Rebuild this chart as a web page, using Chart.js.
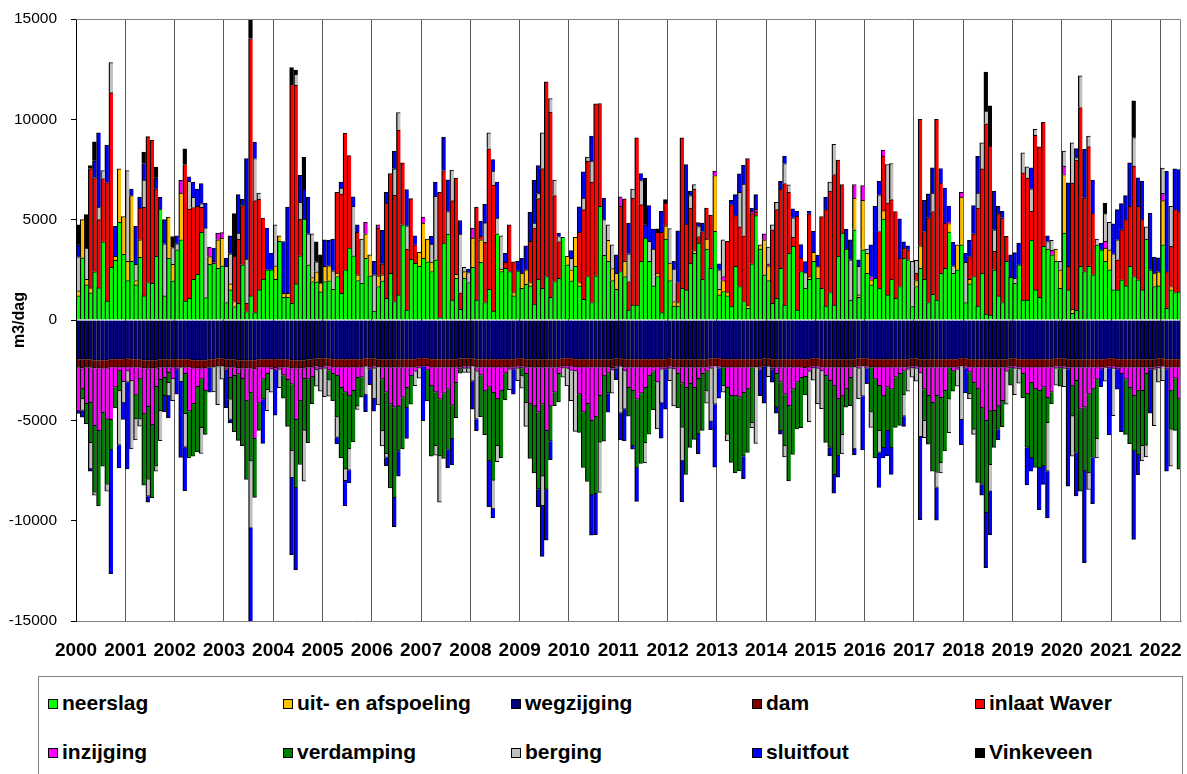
<!DOCTYPE html>
<html lang="nl">
<head>
<meta charset="UTF-8">
<title>Waterbalans</title>
<script src="https://cdn.jsdelivr.net/npm/chart.js@4.4.0/dist/chart.umd.min.js"></script>
<style>
  body { margin: 0; background: #fff; font-family: 'Liberation Sans', Arial, sans-serif; }
  #wrap { position: relative; width: 1187px; height: 774px; overflow: hidden; }
  #chart { position: absolute; left: 0; top: 0; }
  #legend { position: absolute; left: 38px; top: 676px; width: 1145px; height: 100px;
            border: 1px solid #808080; box-sizing: border-box; }
  .item { position: absolute; font-weight: bold; font-size: 21px; line-height: 24px;
          white-space: nowrap; color: #000; }
  .box { display: inline-block; width: 8px; height: 8px; border: 1px solid #000;
         margin-right: 4px; vertical-align: 1px; }
</style>
</head>
<body>
<div id="wrap">
  <canvas id="chart" width="1187" height="670"></canvas>
  <div id="legend"></div>
</div>
<script>
// jaren op de x-as (maanden jan 2000 t/m mei 2022)
const years = [2000,2001,2002,2003,2004,2005,2006,2007,2008,2009,2010,2011,
               2012,2013,2014,2015,2016,2017,2018,2019,2020,2021,2022];
const nMonths = 269;

// ---- instroom (m3/dag), per jaar 12 maanden ----
const neerslag = [
  1200,3100,1750,1350,2400,1600,3900,950,2630,2970,4870,3280,
  1970,2920,1750,3120,1200,1870,1830,3170,5530,1200,3080,1950,
  3500,4000,950,1080,2030,2280,4370,1120,2780,2830,2580,2700,
  870,1500,670,830,2750,420,1200,370,1500,2030,2500,2500,
  2030,3920,1130,1130,830,1800,3200,5030,2750,1920,1900,1400,
  1920,1950,1530,2170,1330,2500,3580,3200,1970,1830,3080,2200,
  450,1670,1950,1080,2330,920,1250,4750,500,3030,2830,2670,
  3080,2900,2420,3000,120,3830,4280,1000,2080,530,2080,1870,
  2630,1000,2870,870,1530,450,4300,2420,2580,2420,1200,2450,
  1580,1780,1700,800,2030,1580,2170,1130,1920,2080,4120,2750,
  1950,2670,1700,1030,2170,870,2200,5670,3220,2920,1970,1530,
  2420,2170,500,750,750,2920,4080,2920,1700,2170,370,4030,
  1970,700,700,1580,1500,2830,3330,3830,2030,3530,2580,4420,
  1250,1420,1200,700,2670,1670,920,580,2800,5200,3530,2250,
  1970,830,1080,2580,750,3330,3670,500,2420,1580,2030,2920,
  2080,1580,700,1370,750,3170,4330,3530,1000,4500,1130,3500,
  2330,1750,2080,1580,5030,1250,2030,1080,1670,3080,3000,670,
  1670,2580,2030,870,1280,1000,2330,2580,4380,2330,2500,3750,
  870,1800,2170,700,2330,300,250,2500,1200,870,2920,2130,
  1830,2750,1000,1000,3970,1500,1130,3670,3530,3250,2920,1580,
  4330,1500,330,500,2670,2420,2670,2250,3750,3500,2920,2500,
  1500,1500,2000,1700,2670,2170,2000,1500,4030,2500,1670,1700,
  3750,580,1500,1370,1400
];
const afspoeling = [
  250,1900,280,250,0,0,0,0,0,200,2670,1880,
  950,3280,220,880,0,0,0,0,0,0,2050,830,
  0,2330,0,0,0,0,0,0,380,0,1420,1380,
  0,300,250,0,0,0,0,0,0,0,0,0,
  670,280,200,200,0,0,0,0,0,200,500,450,
  750,750,0,170,0,0,0,0,280,0,1220,1050,
  0,530,300,0,0,0,0,0,0,0,0,700,
  1750,1130,470,0,0,0,0,0,200,0,330,0,
  1450,0,1130,0,0,0,0,120,0,0,170,0,
  750,720,170,0,0,0,0,0,0,0,0,420,
  550,1450,170,0,0,0,0,0,0,1050,600,800,
  0,750,0,0,0,0,0,0,0,170,0,670,
  870,220,170,0,0,0,130,0,0,500,0,2780,
  280,550,170,0,0,0,0,170,0,0,220,1750,
  730,0,0,0,0,0,0,0,0,0,130,450,
  580,0,0,0,0,0,0,0,0,1580,120,2470,
  1000,250,0,0,420,0,0,0,0,0,0,0,
  300,1120,0,0,0,0,0,0,430,0,1250,2380,
  0,230,0,0,0,0,0,0,0,0,0,0,
  0,0,0,0,0,0,0,0,0,0,620,920,
  2920,0,200,0,0,0,0,0,0,0,670,1000,
  0,0,0,0,0,0,0,0,0,0,670,700,
  2200,0,170,0,0
];
const inlaatWaver = [
  0,0,0,5950,4700,3400,3150,5900,8700,0,0,0,
  0,0,0,1580,4420,7270,7130,3370,0,0,0,0,
  0,0,6800,4450,3580,3380,1250,0,0,0,0,0,
  0,0,2250,3200,2950,420,12830,5580,4530,3050,0,0,
  0,0,0,0,10920,9900,1830,0,0,0,0,0,
  0,0,0,4030,4950,6800,4620,0,2120,0,0,0,
  0,2380,550,4750,4970,5300,8220,3080,3030,3020,920,0,
  0,0,0,0,6250,3620,0,4950,4800,830,0,0,
  0,4630,170,3000,7000,6270,0,0,300,2330,1530,0,
  0,0,2050,3780,4020,5970,9700,9230,4280,1830,0,0,
  0,0,2500,4470,5750,6000,8580,5120,0,0,0,0,
  3250,3120,1420,5330,8330,2830,0,0,0,2030,4000,1130,
  0,0,1000,7500,3280,2750,3070,330,2380,1550,2650,0,
  0,0,2550,5050,2530,2970,3280,7300,2500,200,0,0,
  0,3670,4420,3950,6050,3030,450,4670,670,0,3130,0,
  0,3580,4800,5050,6500,4800,2420,0,0,0,0,0,
  0,0,0,2830,2720,4580,3970,4330,1420,500,500,0,
  370,6300,2380,4220,4130,9000,4500,2250,0,0,0,0,
  0,1130,2130,4880,5200,9480,8420,920,4100,4220,1250,0,
  0,0,6330,6080,1450,7700,7500,6200,0,0,0,0,
  0,1170,6300,7470,7920,3670,5970,3050,0,0,0,0,
  0,1500,2500,3300,3000,5500,3670,3500,0,0,0,0,
  0,1830,2000,4130,4000
];
const inzijgingIn = [
  0,0,0,0,0,0,0,0,0,0,0,0,
  0,0,0,0,0,0,0,0,0,0,0,0,
  0,630,0,0,0,0,0,0,470,100,330,280,
  0,0,0,0,0,0,0,0,0,0,0,0,
  0,0,0,0,0,0,0,0,0,0,0,0,
  0,0,0,0,0,0,0,0,0,0,570,0,
  0,170,0,0,0,0,0,0,0,0,0,0,
  300,0,0,0,0,0,0,0,0,0,0,0,
  500,0,0,0,0,0,0,0,0,0,0,0,
  0,0,0,0,0,0,0,0,0,0,0,0,
  0,0,0,0,0,0,0,0,0,0,0,0,
  470,0,0,0,0,0,0,0,0,0,0,0,
  0,0,0,0,0,0,0,0,0,0,0,220,
  0,200,0,0,0,0,0,0,120,120,0,300,
  100,0,0,0,0,0,0,0,0,0,0,0,
  0,0,0,0,0,0,0,0,0,670,0,730,
  0,170,0,0,300,0,0,0,0,0,0,0,
  0,0,0,0,0,0,0,0,120,0,0,230,
  0,0,0,0,0,0,0,0,0,0,0,0,
  0,0,0,0,0,0,0,0,0,220,0,0,
  420,0,0,0,0,0,0,0,0,0,330,0,
  0,0,0,0,0,0,0,0,0,0,0,0,
  370,0,0,0,0
];
const bergingIn = [
  1700,0,1550,0,0,630,400,0,1500,0,0,0,
  4530,0,800,0,1350,0,0,0,0,2600,0,830,
  300,0,0,1380,500,0,180,3470,0,0,0,0,
  1800,1500,0,300,0,2200,0,2100,300,0,0,0,
  2050,0,0,0,0,550,830,0,1550,2180,500,0,
  0,0,920,0,300,0,0,2470,0,2200,0,0,
  1800,0,0,0,0,1320,870,0,1170,0,0,0,
  0,0,900,3170,0,0,1130,1520,0,2920,220,500,
  0,0,0,970,800,700,780,1660,0,0,0,0,
  0,0,0,250,250,1780,0,670,770,250,0,0,
  580,0,0,580,200,1050,0,0,1780,780,1180,0,
  0,0,1380,450,0,1200,0,1000,1830,0,0,0,
  1720,1620,0,0,0,620,220,500,0,0,0,0,
  970,1830,0,0,0,1730,2580,0,0,0,0,0,
  830,250,370,0,1000,380,970,0,0,780,0,0,
  0,0,0,450,1500,0,0,0,2000,0,1420,0,
  200,0,0,1830,0,1920,1800,0,0,0,0,2250,
  630,0,0,0,920,0,0,0,0,370,0,0,
  2000,0,0,750,1300,630,0,1080,0,0,0,0,
  250,0,1000,550,1120,300,0,0,380,500,0,420,
  750,0,2000,120,1580,0,530,0,280,0,1380,1370,
  1800,1000,0,0,0,1420,0,0,620,0,0,0,
  1250,0,2000,0,0
];
const sluitfoutIn = [
  600,0,0,0,830,3700,0,1870,0,1500,0,0,
  0,330,1900,550,830,0,0,550,580,1200,0,0,
  400,0,0,220,750,870,1000,1220,0,650,0,0,
  420,900,0,1920,330,5000,0,820,0,0,2080,830,
  0,0,2580,4300,0,0,1350,1500,1830,0,0,0,
  1330,1270,1580,0,300,0,0,470,380,0,0,0,
  670,0,1670,530,0,880,0,0,1800,0,450,0,
  0,0,380,700,0,1670,1580,0,0,680,0,170,
  0,0,750,920,0,580,1800,0,450,0,0,470,
  750,1200,1450,2130,1400,0,0,0,0,170,0,0,
  380,0,1270,1300,0,1250,0,0,1080,0,0,920,
  0,0,1530,0,0,350,670,1780,1000,0,1050,0,
  0,380,2580,0,2970,220,0,200,420,0,0,0,
  300,0,0,220,1050,920,930,0,160,730,0,0,
  0,0,0,380,370,0,450,250,670,550,130,1050,
  580,0,630,0,0,0,0,1000,1000,0,330,0,
  0,1580,3580,670,0,0,0,0,1950,320,200,0,
  0,0,1550,1200,1250,0,720,1750,750,1170,0,0,
  460,830,1400,1830,0,0,0,1920,370,330,0,1120,
  1280,1080,0,0,1050,0,0,0,280,0,0,0,
  0,4170,0,450,0,2420,0,1670,0,330,0,0,
  1500,1500,1300,1200,2170,0,1420,1920,0,2830,800,700,
  0,5000,0,2030,2100
];
const vinkeveen = [
  1000,0,1670,150,950,0,0,0,0,0,0,0,
  0,0,0,0,570,0,0,530,0,0,0,550,
  0,0,780,0,0,0,0,0,0,0,0,0,
  0,0,2130,0,0,0,1000,0,0,0,0,0,
  0,0,0,0,830,200,0,1580,0,0,1000,1400,
  0,0,0,0,0,0,0,0,0,0,0,0,
  0,0,0,0,0,0,0,0,0,0,0,0,
  0,0,0,0,0,0,0,0,0,0,0,0,
  0,0,0,0,0,0,0,0,0,0,0,0,
  0,0,0,0,0,0,0,0,0,0,0,0,
  0,0,0,0,0,0,0,0,0,0,0,0,
  0,0,0,0,0,0,2330,0,0,170,0,170,
  0,0,0,0,0,0,0,0,0,0,0,0,
  0,0,0,0,0,0,0,0,0,0,0,0,
  0,0,0,0,0,0,0,0,0,0,0,0,
  0,0,0,0,0,0,0,0,0,0,0,0,
  0,0,0,0,0,0,0,0,0,0,0,0,
  0,0,0,0,0,0,0,0,0,0,0,0,
  0,0,0,0,0,1950,2000,0,0,0,0,0,
  0,0,0,0,0,0,0,0,0,0,0,0,
  0,0,0,0,0,0,0,0,0,0,530,0,
  0,0,0,0,0,1830,0,0,0,0,0,0,
  0,0,0,0,0
];

// ---- uitstroom (m3/dag) ----
const wegzijging = [
  -1950,-1950,-1950,-1950,-2000,-2000,-2000,-2000,-1950,-1950,-1950,-1950,
  -1900,-1950,-1950,-1950,-2000,-2000,-2000,-2000,-1950,-1950,-1950,-1950,
  -1950,-1950,-1950,-1950,-2000,-2000,-2000,-2000,-1950,-1950,-1900,-1900,
  -1950,-1950,-1950,-2000,-2000,-2000,-2000,-2000,-1950,-1950,-1950,-1950,
  -1950,-1950,-1950,-1950,-2000,-2000,-2000,-2000,-1950,-1950,-1900,-1900,
  -1900,-1900,-1950,-1950,-1950,-1950,-1950,-1950,-1950,-1950,-1900,-1900,
  -1900,-1950,-1950,-1950,-1950,-1950,-1950,-1950,-1950,-1950,-1950,-1900,
  -1900,-1900,-1950,-1950,-1950,-1950,-1950,-1950,-1950,-1900,-1900,-1900,
  -1900,-1950,-1950,-1950,-1950,-1950,-1950,-1950,-1950,-1950,-1950,-1900,
  -1900,-1950,-1950,-1950,-1950,-1950,-1950,-1950,-1950,-1950,-1900,-1900,
  -1900,-1950,-1950,-1950,-1950,-1950,-1950,-1950,-1950,-1950,-1950,-1900,
  -1900,-1950,-1950,-1950,-1950,-1950,-1950,-1950,-1950,-1950,-1950,-1950,
  -1900,-1950,-1950,-1950,-1950,-1950,-1950,-1950,-1950,-1950,-1900,-1900,
  -1900,-1950,-1950,-1950,-1950,-1950,-1950,-1950,-1950,-1950,-1950,-1900,
  -1900,-1950,-1950,-1950,-1950,-1950,-1950,-1950,-1950,-1950,-1950,-1900,
  -1900,-1950,-1950,-1950,-1950,-1950,-1950,-1950,-1950,-1950,-1900,-1900,
  -1900,-1950,-1950,-1950,-1950,-1950,-1950,-1950,-1950,-1950,-1950,-1900,
  -1900,-1950,-1950,-1950,-1950,-1950,-1950,-1950,-1950,-1950,-1950,-1900,
  -1900,-1950,-1950,-1950,-1950,-1950,-1950,-1950,-1950,-1950,-1950,-1900,
  -1900,-1950,-1950,-1950,-1950,-1950,-1950,-1950,-1950,-1950,-1900,-1900,
  -1900,-1950,-1950,-1950,-1950,-1950,-1950,-1950,-1950,-1950,-1950,-1900,
  -1900,-1950,-1950,-1950,-1950,-1950,-1950,-1950,-1950,-1950,-1950,-1900,
  -1900,-1950,-1950,-1950,-1950
];
const dam = [
  -420,-450,-420,-420,-400,-400,-420,-420,-400,-400,-420,-400,
  -450,-420,-400,-420,-400,-420,-400,-420,-400,-420,-400,-420,
  -400,-420,-420,-400,-420,-400,-420,-400,-420,-400,-420,-400,
  -420,-400,-420,-400,-420,-400,-420,-450,-400,-400,-420,-400,
  -450,-420,-400,-420,-400,-420,-400,-420,-400,-420,-400,-450,
  -420,-400,-420,-400,-420,-400,-420,-400,-420,-400,-420,-450,
  -420,-400,-420,-400,-420,-400,-420,-400,-420,-400,-420,-400,
  -420,-400,-420,-400,-420,-400,-420,-400,-420,-450,-420,-420,
  -400,-420,-400,-420,-400,-420,-400,-420,-400,-420,-400,-420,
  -400,-420,-400,-420,-400,-420,-400,-420,-400,-420,-400,-420,
  -420,-400,-420,-400,-420,-400,-420,-400,-420,-400,-450,-420,
  -420,-400,-420,-400,-420,-400,-420,-400,-420,-400,-420,-400,
  -420,-400,-420,-400,-420,-400,-420,-400,-420,-400,-420,-400,
  -420,-400,-420,-400,-420,-400,-420,-400,-420,-400,-420,-400,
  -420,-400,-420,-400,-420,-400,-420,-400,-420,-450,-420,-400,
  -420,-400,-420,-400,-420,-400,-420,-400,-420,-400,-420,-400,
  -420,-400,-420,-400,-420,-400,-420,-400,-420,-400,-420,-400,
  -420,-400,-420,-400,-420,-400,-420,-400,-420,-400,-420,-400,
  -420,-400,-420,-400,-420,-400,-420,-400,-420,-400,-420,-400,
  -420,-400,-420,-400,-420,-400,-420,-400,-420,-400,-420,-400,
  -420,-400,-420,-400,-420,-400,-420,-400,-420,-400,-420,-400,
  -420,-400,-420,-400,-420,-400,-420,-400,-420,-400,-420,-400,
  -420,-400,-420,-400,-420
];
const inzijgingUit = [
  -2170,-1030,-1800,-1750,-2870,-3120,-2200,-2530,-2620,-1000,-170,-730,
  -200,-670,-1380,-570,-2280,-1900,-2830,-900,-620,-500,-280,-570,
  -100,0,-300,-2200,-1750,-920,-530,-1130,0,0,0,0,
  -100,-530,-400,-300,-500,-1630,-1200,-3470,-1800,-600,-300,-100,
  -100,-100,-400,-600,-800,-2550,-1630,-500,-600,-470,-200,-100,
  -100,-200,-300,-420,-1000,-1250,-1420,-1170,-500,-500,0,-100,
  -100,0,-580,-1250,-1830,-2000,-1920,-1500,-1000,-420,-200,-100,
  0,-200,-920,-1250,-1580,-1300,-1080,-1900,-750,-100,-100,-100,
  0,-200,-400,-1170,-1000,-1250,-1580,-1170,-300,-100,-100,-100,
  -100,-300,-1830,-1920,-2250,-1830,-3170,-1920,-1250,-300,-100,-100,
  -200,-200,-1330,-2250,-1800,-2670,-2450,-1420,-420,-300,-100,-100,
  0,-200,-1000,-1170,-1580,-1300,-1000,-420,-200,-750,-100,-100,
  -100,-100,-300,-800,-1000,-830,-1000,-580,-300,-200,-100,0,
  -100,0,-1000,-1420,-1420,-1500,-1250,-1080,0,0,-100,0,
  0,-100,-300,-750,-1330,-1920,-1080,-750,-500,-420,-200,-100,
  -100,-200,-400,-670,-920,-1580,-1420,-1080,-500,0,-100,0,
  -100,0,-580,-920,-1420,-1000,-1080,-500,-300,-200,-100,-100,
  -100,-300,-1080,-1420,-1750,-1420,-1500,-1170,0,-200,-100,0,
  -100,-250,-750,-1080,-2000,-2670,-2170,-2170,-1920,-1670,-200,-100,
  -100,-100,-300,-1330,-750,-1080,-1170,-1000,-1500,-1250,-100,-100,
  -100,-100,-920,-670,-2080,-2000,-1330,-1080,-580,-100,0,-100,
  -100,-100,-300,-600,-1000,-1420,-1170,-1170,-300,-100,-100,-100,
  0,-100,-1170,-550,-1570
];
const verdamping = [
  0,-500,-1000,-2000,-3330,-3750,-2670,-3250,-1500,-1030,-1000,0,
  0,0,-1200,-2000,-3550,-3630,-3620,-3970,-1550,-900,-500,0,
  0,0,-2000,-2330,-2620,-3250,-2420,-2170,0,0,0,0,
  0,-1080,-2800,-3300,-3350,-3920,-3420,-2920,-1350,-1000,-800,0,
  0,0,-1150,-2330,-3330,-3400,-3170,-2580,-3170,-1330,0,0,
  0,-500,-1350,-2080,-3500,-3830,-2630,-2550,-1420,-1000,0,0,
  0,0,-2580,-3080,-4170,-4500,-2250,-2580,-1000,-1420,0,0,
  0,-1530,-3500,-2670,-2830,-3250,-3000,-1670,-1750,-200,0,0,
  0,0,-2080,-2170,-3670,-4370,-2330,-3330,-1330,0,0,0,
  -400,-1450,-2720,-3330,-3830,-3580,-2920,-1750,-670,-1420,0,0,
  0,0,-1900,-2750,-3880,-3700,-3830,-2330,-3250,-1000,0,0,
  0,0,-1420,-2750,-3420,-3500,-2750,-2920,-1900,0,0,0,
  0,0,-1700,-2200,-4330,-3170,-2580,-2750,-2830,-1000,0,0,
  0,-920,-2330,-3330,-3830,-3670,-3170,-3170,-2750,0,0,0,
  0,0,-1670,-2420,-2580,-3750,-3250,-2330,-2500,-920,0,0,
  0,0,-3330,-3330,-4420,-2830,-1920,-920,-1400,0,0,0,
  0,-2250,-3920,-2250,-2580,-2170,-2920,-2500,-2580,-1170,0,0,
  0,0,-1580,-2420,-3420,-3830,-3250,-3000,-1580,-1000,0,0,
  0,-1080,-2330,-4670,-3830,-4580,-2670,-1830,-1170,-1300,0,-850,
  0,0,-1200,-2670,-3750,-3920,-3830,-3920,-1250,-580,0,-900,
  0,0,-1500,-3580,-4080,-3170,-3920,-3420,-2970,0,0,0,
  0,0,0,-2750,-2800,-2750,-3170,-2750,-3580,0,0,0,
  0,0,-1920,-2600,-3500
];
const bergingUit = [
  0,-580,0,-1300,-130,0,0,-330,0,0,-2700,-1050,
  -550,-3380,-1050,-350,0,-830,0,-250,-1500,0,-650,-1080,
  0,-700,-1670,0,0,0,-1280,0,0,-1230,-1900,-650,
  0,-1000,0,0,0,0,-3330,0,0,0,-1050,-1150,
  0,-900,0,0,-1330,0,0,-2530,0,0,-800,-1100,
  -1400,-800,0,-1000,0,-580,-1070,0,-170,0,-1420,0,
  -1500,-1880,-750,-170,0,0,0,0,0,0,-700,-500,
  0,0,0,-470,-2300,0,0,0,0,0,-200,-200,
  -750,-2370,0,0,0,-1420,-800,0,0,-1000,0,-600,
  -600,-1180,0,0,0,-1470,0,0,0,0,-450,-870,
  -1500,-3000,0,0,0,0,0,-2500,0,0,-1150,0,
  -2330,-1900,0,0,0,0,-1000,0,0,-2330,-1670,0,
  -600,-1830,0,-1670,0,0,0,0,0,-600,-2630,-1900,
  0,-330,-330,0,0,0,0,0,-250,-3800,0,0,
  -500,0,0,0,-550,0,0,0,0,0,-2500,-600,
  -1750,-1870,0,0,0,0,-970,0,0,-4070,-1500,-1500,
  0,-750,0,-1080,0,0,0,0,0,-1080,-1080,-450,
  -630,-3170,-830,0,0,-750,-500,0,-1670,0,-830,-2670,
  0,-250,-250,0,0,0,-1330,0,0,0,-1620,0,
  -1300,-700,0,0,0,0,0,0,-2420,0,-830,0,
  -900,0,-2000,0,0,0,-830,0,-950,0,-680,0,
  -2350,0,0,0,0,0,0,-750,-580,0,-2800,-700,
  -700,0,-1830,0,0
];
const sluitfoutUit = [
  -120,-330,0,-120,0,0,0,0,-6170,0,-1130,-830,
  -4320,0,0,0,0,-300,0,0,0,-800,-1100,0,
  -1250,-3780,-2170,0,0,0,0,0,-1230,0,0,0,
  -1900,-170,0,0,0,0,-4800,0,0,-2200,0,0,
  -2250,0,0,0,-3830,-4080,0,0,0,0,0,0,
  0,0,0,-330,0,-1250,-630,0,0,0,-830,-770,
  -630,0,0,-420,0,-1450,-1250,0,-1530,0,0,0,
  -2700,0,0,0,0,0,-920,-1300,0,0,0,0,
  -1400,-580,0,0,-2280,-450,0,0,0,0,-1250,0,
  0,0,0,0,-870,-2530,-2530,-920,0,0,0,0,
  0,0,0,0,0,-2000,-2050,0,0,-950,0,-550,
  -1330,-1580,0,-170,-1670,0,0,0,0,0,-1750,-2000,
  0,0,0,-2050,0,0,0,-1000,0,0,-420,-3130,
  -1480,0,0,0,0,0,-1120,0,0,0,-1300,-1850,
  0,-650,-300,-170,0,0,0,0,0,0,0,0,
  0,0,0,-420,-920,-1080,0,0,0,-300,0,-2670,
  -750,0,0,-1750,-500,-1250,-1330,0,0,-500,0,0,
  0,-4130,0,0,0,-1630,0,0,0,0,0,-1250,
  -1220,0,0,0,-530,-2750,-2170,0,-500,0,0,0,
  0,0,0,-1870,-670,0,-2080,-920,-2330,0,0,0,
  0,-5830,0,-2170,0,-4580,0,-2300,0,-870,0,-3330,
  0,-1000,-2900,0,0,-4420,-1000,0,0,-2200,0,0,
  0,-5080,0,0,0
];

// maandlabels
const months = [];
years.forEach(y => {
  for (let m = 1; m <= 12 && months.length < nMonths; m++) months.push(y + '-' + m);
});

const kleur = {
  neerslag: '#00ff00', afspoeling: '#ffc000', wegzijging: '#000080', dam: '#800000',
  inlaat: '#ff0000', inzijging: '#ff00ff', verdamping: '#008000', berging: '#c0c0c0',
  sluitfout: '#0000ff', vinkeveen: '#000000'
};

const serie = (label, data, color) => ({
  label: label,
  data: data.map(v => (v === 0 ? null : v)),
  backgroundColor: color,
  borderColor: '#000',
  borderWidth: { top: 1, bottom: 1, left: 1.3, right: 0 },
  inflateAmount: 0.3,
  barPercentage: 1,
  categoryPercentage: 1,
  stack: 'balans'
});

const datasets = [
  serie('neerslag', neerslag, kleur.neerslag),
  serie('uit- en afspoeling', afspoeling, kleur.afspoeling),
  serie('inlaat Waver', inlaatWaver, kleur.inlaat),
  serie('inzijging', inzijgingIn, kleur.inzijging),
  serie('berging', bergingIn, kleur.berging),
  serie('sluitfout', sluitfoutIn, kleur.sluitfout),
  serie('Vinkeveen', vinkeveen, kleur.vinkeveen),
  serie('wegzijging', wegzijging, kleur.wegzijging),
  serie('dam', dam, kleur.dam),
  serie('inzijging', inzijgingUit, kleur.inzijging),
  serie('verdamping', verdamping, kleur.verdamping),
  serie('berging', bergingUit, kleur.berging),
  serie('sluitfout', sluitfoutUit, kleur.sluitfout)
];

// grijze kader rond het plotvlak
const kader = {
  id: 'kader',
  afterDatasetsDraw(chart) {
    const a = chart.chartArea, ctx = chart.ctx;
    ctx.save();
    ctx.strokeStyle = '#808080';
    ctx.lineWidth = 1;
    ctx.beginPath();
    ctx.moveTo(a.left, a.top + 0.5);
    ctx.lineTo(a.right - 0.5, a.top + 0.5);
    ctx.lineTo(a.right - 0.5, a.bottom);
    ctx.stroke();
    ctx.restore();
  }
};

const fontFam = "'Liberation Sans', Arial, sans-serif";

new Chart(document.getElementById('chart'), {
  type: 'bar',
  data: { labels: months, datasets: datasets },
  options: {
    animation: false,
    responsive: false,
    layout: { padding: { top: 19, right: 6, left: 0, bottom: 0 } },
    plugins: { legend: { display: false }, tooltip: { enabled: false } },
    scales: {
      x: {
        stacked: true,
        grid: {
          offset: true,
          drawTicks: false,
          color: (ctx) => (ctx.index % 12 === 0 ? '#5a5a5a' : 'rgba(0,0,0,0)')
        },
        border: { display: true, color: '#808080' },
        ticks: {
          autoSkip: false, maxRotation: 0, minRotation: 0, padding: 18,
          labelOffset: -2,
          color: '#000',
          font: { family: fontFam, size: 19, weight: 'bold' },
          callback: (v, i) => (i % 12 === 0 ? String(years[i / 12]) : '')
        },
        afterFit: (s) => { s.height = 49; s.paddingLeft = 0; s.paddingRight = 0; }
      },
      y: {
        stacked: true,
        min: -15000, max: 15000,
        grid: { drawOnChartArea: false, drawTicks: true, tickLength: 5, color: '#000' },
        border: { display: true, color: '#000' },
        ticks: {
          stepSize: 5000, padding: 14, color: '#000',
          font: { family: fontFam, size: 15.5 },
          callback: (v) => String(v)
        },
        title: {
          display: true, text: 'm3/dag', color: '#000',
          font: { family: fontFam, size: 16, weight: 'bold' },
          padding: { top: 10, bottom: 0 }
        },
        afterFit: (s) => { s.width = 76; s.paddingTop = 0; s.paddingBottom = 0; }
      }
    }
  },
  plugins: [kader]
});

// legenda (2 rijen, 5 kolommen)
const legendaItems = [
  ['neerslag', kleur.neerslag], ['uit- en afspoeling', kleur.afspoeling],
  ['wegzijging', kleur.wegzijging], ['dam', kleur.dam], ['inlaat Waver', kleur.inlaat],
  ['inzijging', kleur.inzijging], ['verdamping', kleur.verdamping],
  ['berging', kleur.berging], ['sluitfout', kleur.sluitfout], ['Vinkeveen', kleur.vinkeveen]
];
const kolomX = [9, 244, 472, 713, 936];
const rijY = [14, 63];
const legenda = document.getElementById('legend');
legendaItems.forEach((it, k) => {
  const d = document.createElement('div');
  d.className = 'item';
  d.style.left = kolomX[k % 5] + 'px';
  d.style.top = rijY[Math.floor(k / 5)] + 'px';
  d.innerHTML = '<span class="box" style="background:' + it[1] + '"></span>' + it[0];
  legenda.appendChild(d);
});
</script>
</body>
</html>
